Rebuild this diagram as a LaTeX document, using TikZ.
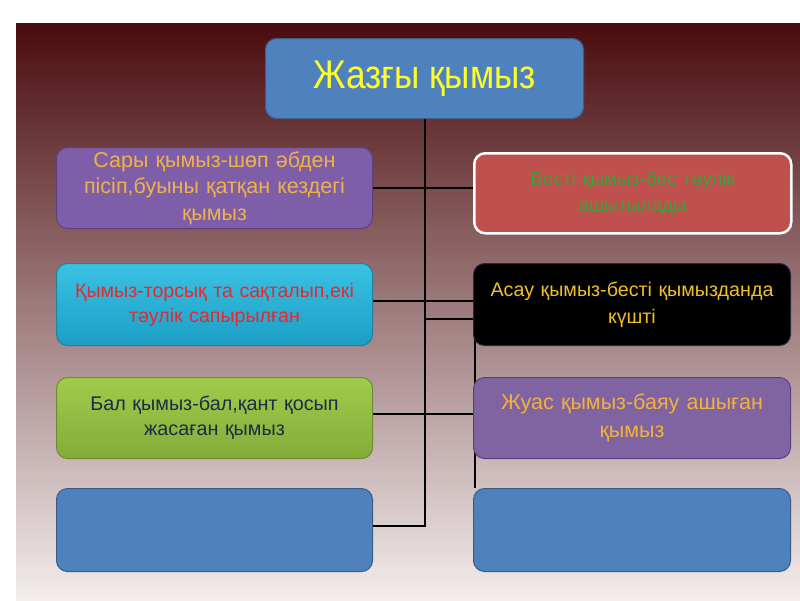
\documentclass[tikz,border=0pt]{standalone}
\usepackage{fontspec}
\usetikzlibrary{backgrounds}
\setmainfont{Liberation Sans}
\newfontfamily\narrowfont[FakeStretch=0.88]{Liberation Sans}
\begin{document}
\begin{tikzpicture}[x=1pt,y=-1pt,
  box/.style={rounded corners=11pt, anchor=north west, align=center, inner sep=4pt, line width=1pt},
  conn/.style={draw=black, line width=2pt}]
\useasboundingbox (0,0) rectangle (800,600);

% nodes
\node[box, draw={rgb,255:red,58;green,95;blue,143}, fill={rgb,255:red,79;green,129;blue,189}, minimum width=318pt, minimum height=80pt, text={rgb,255:red,255;green,255;blue,40}, font=\narrowfont\fontsize{40}{44}\selectfont] (top) at (265,38) {Жазғы қымыз};

\node[box, draw={rgb,255:red,90;green,66;blue,130}, fill={rgb,255:red,126;green,94;blue,168}, minimum width=316pt, minimum height=81pt, text width=306pt, text={rgb,255:red,240;green,178;blue,70}, font=\fontsize{21.5}{26.5}\selectfont] (l1) at (56,147) {Сары қымыз-шөп әбден\\пісіп,буыны қатқан кездегі\\қымыз};
\node[box, draw={rgb,255:red,30;green,130;blue,160}, top color={rgb,255:red,58;green,194;blue,228}, bottom color={rgb,255:red,28;green,158;blue,196}, minimum width=316pt, minimum height=82pt, text width=306pt, text={rgb,255:red,232;green,40;blue,44}, font=\fontsize{19.6}{25}\selectfont] (l2) at (56,263) {Қымыз-торсық та сақталып,екі\\тәулік сапырылған};
\node[box, draw={rgb,255:red,110;green,140;blue,50}, top color={rgb,255:red,160;green,204;blue,76}, bottom color={rgb,255:red,130;green,172;blue,56}, minimum width=316pt, minimum height=81pt, text width=306pt, text={rgb,255:red,30;green,42;blue,72}, font=\fontsize{19.8}{25}\selectfont] (l3) at (56,377) {Бал қымыз-бал,қант қосып\\жасаған қымыз};
\node[box, draw={rgb,255:red,56;green,93;blue,138}, fill={rgb,255:red,79;green,129;blue,189}, minimum width=316pt, minimum height=83pt] (l4) at (56,488) {};

\node[box, draw=white, line width=2.5pt, fill={rgb,255:red,192;green,80;blue,77}, minimum width=317pt, minimum height=80pt, text width=306pt, text={rgb,255:red,60;green,160;blue,62}, font=\fontsize{19}{26}\selectfont] (r1) at (473,152) {Бесті қымыз-бес тәулік\\ашытылады};
\node[box, draw={rgb,255:red,40;green,40;blue,60}, fill=black, minimum width=317pt, minimum height=82pt, text width=309pt, text={rgb,255:red,240;green,192;blue,40}, font=\fontsize{19.7}{27}\selectfont] (r2) at (473,263) {Асау қымыз-бесті қымызданда\\күшті};
\node[box, draw={rgb,255:red,90;green,66;blue,130}, fill={rgb,255:red,128;green,100;blue,162}, minimum width=317pt, minimum height=81pt, text width=306pt, text={rgb,255:red,240;green,178;blue,60}, font=\fontsize{21.5}{28}\selectfont] (r3) at (473,377) {Жуас қымыз-баяу ашыған\\қымыз};
\node[box, draw={rgb,255:red,56;green,93;blue,138}, fill={rgb,255:red,79;green,129;blue,189}, minimum width=317pt, minimum height=83pt] (r4) at (473,488) {};

\begin{scope}[on background layer]
\fill[white] (0,0) rectangle (800,600);
\shade[top color={rgb,255:red,74;green,12;blue,14}, middle color={rgb,255:red,162;green,108;blue,110}, bottom color={rgb,255:red,243;green,237;blue,237}] (16,23) rectangle (800,600);
\coordinate (j) at (top.south |- 0,319);
\draw[conn] (top.south) |- ([yshift=4pt]l4.east);
\draw[conn] (l1.east) -- (l1.east -| r1.west);
\draw[conn] ([yshift=4pt]l2.east) -- ([yshift=4pt]r2.west);
\draw[conn] ([yshift=4pt]l3.east) -- ([yshift=4pt]r3.west);
\draw[conn] (j) -| ([xshift=2pt]r4.north west);
\end{scope}
\end{tikzpicture}
\end{document}
